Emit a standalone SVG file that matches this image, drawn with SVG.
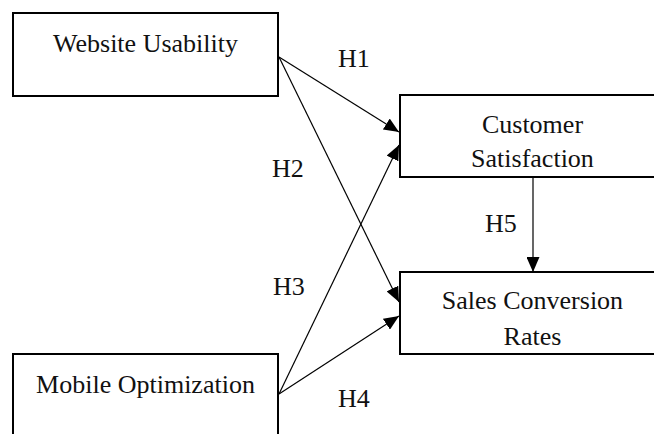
<svg xmlns="http://www.w3.org/2000/svg" width="654" height="434" viewBox="0 0 654 434">
  <defs>
    <marker id="arrow" markerUnits="userSpaceOnUse" markerWidth="15" markerHeight="13" refX="15" refY="6.5" orient="auto">
      <path d="M0,0 L15,6.5 L0,13 z" fill="#000"/>
    </marker>
    <style>
      .box { fill: #fff; stroke: #000; stroke-width: 2; }
      .lbl { font-family: "Liberation Serif", "Times New Roman", serif; font-size: 26px; fill: #111; }
      .mid { text-anchor: middle; }
      .edge { stroke: #000; stroke-width: 1.2; fill: none; marker-end: url(#arrow); }
    </style>
  </defs>
  <rect width="654" height="434" fill="#fff"/>

  <g id="connectors">
    <line class="edge" x1="279" y1="57" x2="399" y2="132"/>
    <line class="edge" x1="279" y1="57" x2="399" y2="302"/>
    <line class="edge" x1="279" y1="394" x2="399" y2="145"/>
    <line class="edge" x1="279" y1="394" x2="399" y2="316"/>
    <line class="edge" x1="533" y1="178" x2="533" y2="272"/>
    <text class="lbl" x="338" y="67">H1</text>
    <text class="lbl" x="272" y="177">H2</text>
    <text class="lbl" x="273" y="295">H3</text>
    <text class="lbl" x="338" y="407">H4</text>
    <text class="lbl" x="485" y="232">H5</text>
  </g>

  <g id="website-usability">
    <rect class="box" x="13" y="13" width="265" height="83"/>
    <text class="lbl mid" x="145.5" y="52">Website Usability</text>
  </g>

  <g id="mobile-optimization">
    <rect class="box" x="13" y="354" width="265" height="100"/>
    <text class="lbl mid" x="145.5" y="393">Mobile Optimization</text>
  </g>

  <g id="customer-satisfaction">
    <rect class="box" x="400" y="95" width="265" height="82"/>
    <text class="lbl mid" x="532.5" y="133">Customer</text>
    <text class="lbl mid" x="532.5" y="167">Satisfaction</text>
  </g>

  <g id="sales-conversion-rates">
    <rect class="box" x="400" y="272" width="265" height="82"/>
    <text class="lbl mid" x="532.5" y="309">Sales Conversion</text>
    <text class="lbl mid" x="532.5" y="345">Rates</text>
  </g>
</svg>
